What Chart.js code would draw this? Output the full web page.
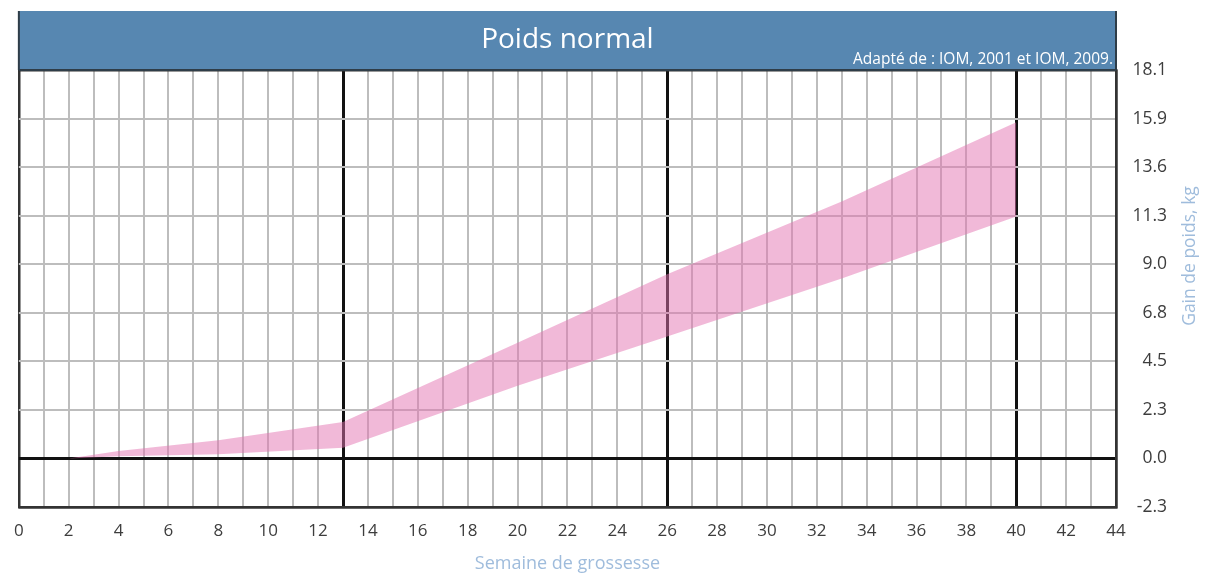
<!DOCTYPE html>
<html>
<head>
<meta charset="utf-8">
<script src="https://cdn.jsdelivr.net/npm/chart.js@4/dist/chart.umd.min.js"></script>
<style>
  body { margin: 0; background: #fff; }
  #wrap { width: 1206px; height: 574px; }
</style>
</head>
<body>
<div id="wrap"><canvas id="grafico" width="1206" height="574"></canvas></div>
<script>
// semaines de grossesse et limites de la zone de gain recommandé (kg)
const semaines = [2, 4, 8, 13, 20, 26, 33, 40];
const gainMin = [0, 0.1, 0.2, 0.5, 3.4, 5.7, 8.4, 11.3];
const gainMax = [0, 0.35, 0.85, 1.7, 5.4, 8.6, 12.0, 15.7];

// graduations
const xLabels = [0, 2, 4, 6, 8, 10, 12, 14, 16, 18, 20, 22, 24, 26, 28, 30, 32, 34, 36, 38, 40, 42, 44];
const xLignesFortes = [13, 26, 40];
const yTicks = [-2.268, 0, 2.268, 4.536, 6.804, 9.072, 11.34, 13.608, 15.876, 18.144];
const yLabels = ['-2.3', '0.0', '2.3', '4.5', '6.8', '9.0', '11.3', '13.6', '15.9', '18.1'];

const titre = 'Poids normal';
const source = 'Adapté de : IOM, 2001 et IOM, 2009.';
const titreX = 'Semaine de grossesse';
const titreY = 'Gain de poids, kg';

Chart.defaults.font.family = "'Open Sans', sans-serif";

// bandeau du titre + titres des axes
const decor = {
    id: 'decor',
    afterDraw(chart) {
        const c = chart.ctx;
        const a = chart.chartArea;
        c.save();
        c.fillStyle = '#5787b1';
        c.fillRect(a.left, 11, a.right - a.left, a.top - 11);
        c.strokeStyle = '#2f3d48';
        c.lineWidth = 2;
        c.beginPath();
        c.moveTo(a.left, 11); c.lineTo(a.left, a.top);
        c.moveTo(a.right, 11); c.lineTo(a.right, a.top);
        c.moveTo(a.left, a.top); c.lineTo(a.right, a.top);
        c.stroke();

        c.fillStyle = '#ffffff';
        c.textAlign = 'center';
        c.textBaseline = 'middle';
        c.font = "28px 'Open Sans', sans-serif";
        c.fillText(titre, (a.left + a.right) / 2, 40);
        c.textAlign = 'right';
        c.font = "15.5px 'Open Sans', sans-serif";
        c.fillText(source, a.right - 3, 60);

        c.fillStyle = '#9fbcdc';
        c.textAlign = 'center';
        c.font = "18px 'Open Sans', sans-serif";
        c.fillText(titreX, (a.left + a.right) / 2, 564);

        c.translate(1190, 256);
        c.rotate(-Math.PI / 2);
        c.font = "17.5px 'Open Sans', sans-serif";
        c.fillText(titreY, 0, 0);
        c.restore();
    }
};

const ctx = document.getElementById('grafico').getContext('2d');
new Chart(ctx, {
    type: 'line',
    data: {
        datasets: [{
            label: 'min',
            data: semaines.map((s, i) => ({ x: s, y: gainMin[i] })),
            borderWidth: 0,
            pointRadius: 0,
            fill: false
        }, {
            label: 'max',
            data: semaines.map((s, i) => ({ x: s, y: gainMax[i] })),
            borderWidth: 0,
            pointRadius: 0,
            backgroundColor: 'rgba(228, 115, 178, 0.5)',
            fill: '-1'
        }]
    },
    options: {
        responsive: false,
        animation: false,
        layout: { padding: { left: 13, top: 70, right: 39, bottom: 0 } },
        plugins: { legend: { display: false }, tooltip: { enabled: false } },
        scales: {
            x: {
                type: 'linear',
                min: 0,
                max: 44,
                afterBuildTicks: scale => {
                    scale.ticks = Array.from({ length: 45 }, (_, i) => ({ value: i }));
                },
                afterFit: scale => { scale.height = 67; },
                grid: {
                    drawTicks: false,
                    color: c => {
                        const v = c.tick ? c.tick.value : -1;
                        if (xLignesFortes.includes(v)) return '#111';
                        if (v === 0 || v === 44) return '#333';
                        return '#bdbdbd';
                    },
                    lineWidth: c => {
                        const v = c.tick ? c.tick.value : -1;
                        if (xLignesFortes.includes(v)) return 3;
                        if (v === 0 || v === 44) return 2.5;
                        return 2;
                    }
                },
                border: { display: true, color: '#333', width: 2.5 },
                ticks: {
                    autoSkip: false,
                    maxRotation: 0,
                    padding: 14,
                    color: '#3d3d3d',
                    font: { size: 17 },
                    callback: v => xLabels.includes(v) ? String(v) : ''
                }
            },
            y: {
                position: 'right',
                min: -2.268,
                max: 18.144,
                afterBuildTicks: scale => {
                    scale.ticks = yTicks.map(v => ({ value: v }));
                },
                afterFit: scale => { scale.width = 51; },
                grid: {
                    drawTicks: false,
                    color: c => {
                        const v = c.tick ? c.tick.value : 99;
                        if (v === 0) return '#111';
                        if (v === yTicks[0] || v === yTicks[yTicks.length - 1]) return '#333';
                        return '#bdbdbd';
                    },
                    lineWidth: c => {
                        const v = c.tick ? c.tick.value : 99;
                        if (v === 0) return 3;
                        if (v === yTicks[0] || v === yTicks[yTicks.length - 1]) return 2.5;
                        return 2;
                    }
                },
                border: { display: true, color: '#333', width: 2.5 },
                ticks: {
                    crossAlign: 'far',
                    padding: 12,
                    color: '#3d3d3d',
                    font: { size: 17.5 },
                    callback: (v, i) => yLabels[i]
                }
            }
        }
    },
    plugins: [decor]
});
</script>
</body>
</html>
